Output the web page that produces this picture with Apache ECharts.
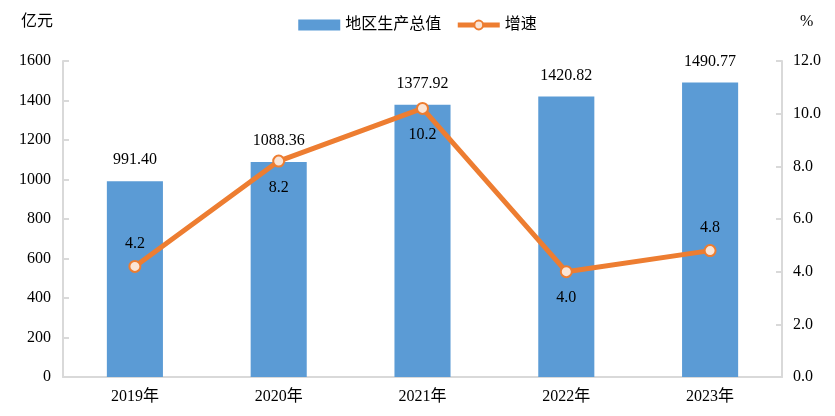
<!DOCTYPE html>
<html>
<head>
<meta charset="utf-8">
<script src="https://cdn.jsdelivr.net/npm/echarts@6/dist/echarts.min.js"></script>
<style>html,body{margin:0;padding:0;background:#fff}#c{width:835px;height:416px}</style>
</head>
<body>
<div id="c"></div>
<script>
const categories = ['2019年', '2020年', '2021年', '2022年', '2023年'];
const gdpValues = [991.40, 1088.36, 1377.92, 1420.82, 1490.77];
const growthValues = [4.2, 8.2, 10.2, 4.0, 4.8];
const leftTicks = [0, 1600, 200];
const rightTicks = [0, 12, 2];

const FONT = '"Liberation Serif", "Times New Roman", "Noto Sans CJK SC", serif';
const growthLabelPos = ['top', 'bottom', 'bottom', 'bottom', 'top'];
const axisGrey = '#D9D9D9';

const chart = echarts.init(document.getElementById('c'), null, {renderer: 'canvas'});
chart.setOption({
  animation: false,
  textStyle: {fontFamily: FONT, color: '#000'},
  legend: {
    top: 12, left: 'center', itemWidth: 42, itemHeight: 11, itemGap: 14,
    textStyle: {fontFamily: FONT, fontSize: 16, color: '#000'},
    data: [
      {name: '地区生产总值', icon: 'rect'},
      {name: '增速', lineStyle: {width: 5, color: '#ED7D31'},
       itemStyle: {color: '#FBE5D6', borderColor: '#ED7D31', borderWidth: 2}}
    ]
  },
  grid: {left: 63, right: 53, top: 61, bottom: 39},
  xAxis: {
    type: 'category', data: categories,
    axisLine: {lineStyle: {color: axisGrey, width: 2}},
    axisTick: {inside: true, length: 6, lineStyle: {color: axisGrey, width: 2}},
    axisLabel: {fontFamily: FONT, fontSize: 16, color: '#000', margin: 12}
  },
  yAxis: [{
    type: 'value', min: leftTicks[0], max: leftTicks[1], interval: leftTicks[2],
    name: '亿元', nameGap: 31,
    nameTextStyle: {fontFamily: FONT, fontSize: 16, color: '#000', align: 'right', padding: [0, 10, 0, 0]},
    axisLine: {show: true, lineStyle: {color: axisGrey, width: 2}},
    axisTick: {show: true, inside: true, length: 6, lineStyle: {color: axisGrey, width: 2}},
    splitLine: {show: false},
    axisLabel: {fontFamily: FONT, fontSize: 16, color: '#000', margin: 12, formatter: v => String(v)}
  }, {
    type: 'value', min: rightTicks[0], max: rightTicks[1], interval: rightTicks[2],
    name: '%', nameGap: 31,
    nameTextStyle: {fontFamily: FONT, fontSize: 16, color: '#000', align: 'left', padding: [0, 0, 0, 18]},
    axisLine: {show: true, lineStyle: {color: axisGrey, width: 2}},
    axisTick: {show: true, inside: true, length: 6, lineStyle: {color: axisGrey, width: 2}},
    splitLine: {show: false},
    axisLabel: {fontFamily: FONT, fontSize: 16, color: '#000', margin: 11, formatter: v => v.toFixed(1)}
  }],
  series: [{
    name: '地区生产总值', type: 'bar', yAxisIndex: 0, barWidth: '39%',
    data: gdpValues,
    itemStyle: {color: '#5B9BD5'},
    label: {show: true, position: 'top', distance: 13, fontFamily: FONT, fontSize: 16, color: '#000',
      formatter: p => p.value.toFixed(2)}
  }, {
    name: '增速', type: 'line', yAxisIndex: 1,
    data: growthValues.map((v, i) => ({value: v, label: {
      position: growthLabelPos[i], distance: growthLabelPos[i] === 'top' ? 8 : 12}})),
    symbol: 'circle', symbolSize: 11,
    lineStyle: {color: '#ED7D31', width: 5},
    itemStyle: {color: '#FBE5D6', borderColor: '#ED7D31', borderWidth: 2},
    label: {show: true, fontFamily: FONT, fontSize: 16, color: '#000',
      formatter: p => p.value.toFixed(1)},
    z: 5
  }]
});
</script>
</body>
</html>
